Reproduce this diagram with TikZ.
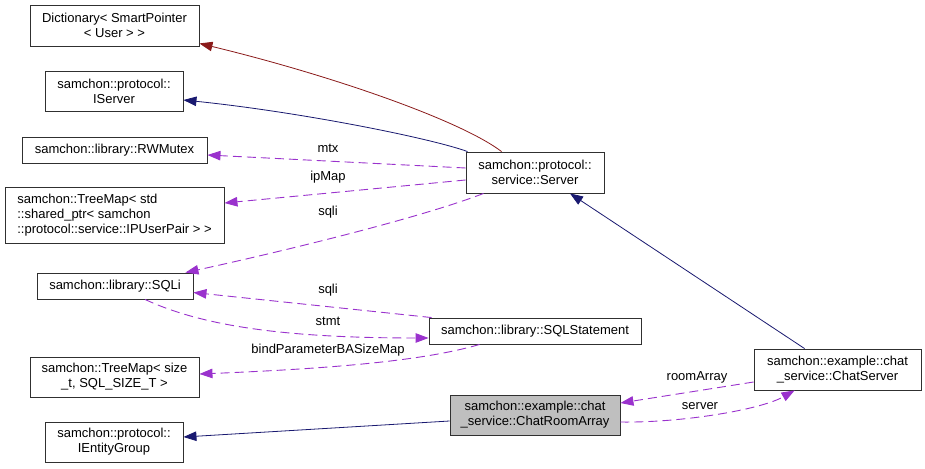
\documentclass[tikz,border=0pt]{standalone}
\usepackage{fontspec}
\setmainfont{Liberation Sans}
\usetikzlibrary{arrows.meta,calc}
\definecolor{redarrow}{HTML}{8B1A1A}
\definecolor{navyarrow}{HTML}{191970}
\definecolor{usearrow}{HTML}{9A32CD}
\definecolor{boxline}{HTML}{303030}
\tikzset{
  cls/.style={draw=boxline, line width=0.9pt, fill=white, inner sep=0pt, align=center,
    font=\fontsize{13}{15}\selectfont},
  lbl/.style={inner sep=0pt, font=\fontsize{13}{15}\selectfont},
  inh/.style={line width=0.8pt, -{Triangle[length=13pt,width=9.5pt]}},
  use/.style={line width=0.9pt, usearrow, dash pattern=on 9pt off 5pt, -{Triangle[length=13pt,width=9.5pt]}},
}
\begin{document}
\begin{tikzpicture}[x=1pt,y=-1pt]
\useasboundingbox[fill=white] (0,0) rectangle (925,468);

\node[cls, minimum width=169pt, minimum height=41pt] (dict) at (114.5,25.5) {Dictionary< SmartPointer\\< User > >};
\node[cls, minimum width=138pt, minimum height=40pt] (iserver) at (114,91) {samchon::protocol::\\IServer};
\node[cls, minimum width=185pt, minimum height=26pt] (rwmutex) at (114.5,150) {samchon::library::RWMutex};
\node[cls, align=left, minimum width=219pt, minimum height=56pt] (treestd) at (114.5,215) {samchon::TreeMap< std\\::shared\_ptr< samchon\\::protocol::service::IPUserPair > >};
\node[cls, minimum width=156pt, minimum height=26pt] (sqli) at (115,286) {samchon::library::SQLi};
\node[cls, minimum width=169pt, minimum height=40pt] (treesize) at (114.5,377) {samchon::TreeMap< size\\\_t, SQL\_SIZE\_T >};
\node[cls, minimum width=138pt, minimum height=40pt] (ientity) at (114,442) {samchon::protocol::\\IEntityGroup};
\node[cls, minimum width=138pt, minimum height=41pt] (server) at (535,172.5) {samchon::protocol::\\service::Server};
\node[cls, minimum width=212pt, minimum height=26pt] (sqlstmt) at (535,331) {samchon::library::SQLStatement};
\node[cls, fill={rgb,255:red,191;green,191;blue,191}, minimum width=170pt, minimum height=40pt] (room) at (535,415) {samchon::example::chat\\\_service::ChatRoomArray};
\node[cls, minimum width=167pt, minimum height=41pt] (chat) at (837.5,369.5) {samchon::example::chat\\\_service::ChatServer};

% inheritance
\draw[inh, redarrow] ($(server.north west)+(36,0)$) .. controls (460,120) and (330,75) .. ($(dict.south east)+(0,-3)$);
\draw[inh, navyarrow] ($(server.north west)+(2,0)$) .. controls (430,138) and (300,112) .. ($(iserver.east)+(0,9)$);
\draw[inh, navyarrow] ($(chat.north west)+(51,0)$) -- ($(server.south)+(35,0)$);
\draw[inh, navyarrow] ($(room.west)+(0,6)$) -- ($(ientity.east)+(0,-5)$);

% usage
\draw[use] ($(server.west)+(0,-4.5)$) -- ($(rwmutex.east)+(0,5)$);
\draw[use] ($(server.west)+(0,7.5)$) -- ($(treestd.east)+(0,-12)$);
\draw[use] ($(server.south west)+(18,0)$) .. controls (420,218) and (280,252) .. ($(sqli.north east)+(-8,0)$);
\draw[use] ($(sqlstmt.north west)+(3,0)$) -- ($(sqli.east)+(0,6.5)$);
\draw[use] ($(sqli.south)+(30,0)$) .. controls (200,325) and (280,338) .. ($(sqlstmt.west)+(0,7)$);
\draw[use] ($(sqlstmt.south west)+(51,0)$) .. controls (420,362) and (320,369) .. ($(treesize.east)+(0,-3)$);
\draw[use] ($(chat.west)+(0,12.5)$) -- ($(room.east)+(0,-12)$);
\draw[use] ($(room.east)+(0,7)$) .. controls (680,423) and (760,410) .. ($(chat.south west)+(41,0)$);

% labels
\node[lbl] (lmtx) at (328,148) {mtx};
\node[lbl] (lipmap) at (328,177) {ipMap};
\node[lbl] (lsqli1) at (328,212) {sqli};
\node[lbl] (lsqli2) at (328,290) {sqli};
\node[lbl] (lstmt) at (328,321) {stmt};
\node[lbl] (lbind) at (328,350) {bindParameterBASizeMap};
\node[lbl] (lroom) at (697,377) {roomArray};
\node[lbl] (lserver) at (700,406) {server};
\end{tikzpicture}
\end{document}
